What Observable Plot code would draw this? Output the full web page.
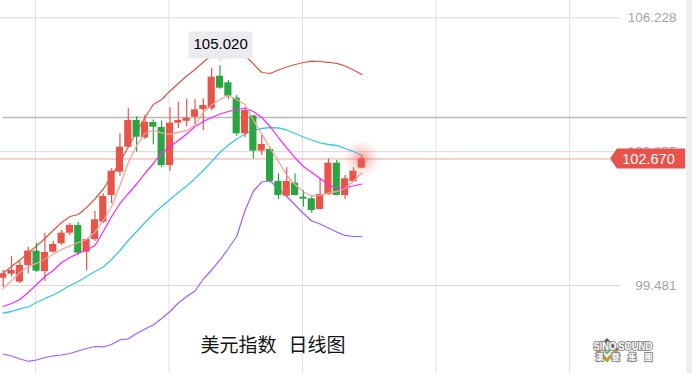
<!DOCTYPE html>
<html><head><meta charset="utf-8">
<script src="https://cdn.jsdelivr.net/npm/d3@7"></script>
<script src="https://cdn.jsdelivr.net/npm/@observablehq/plot@0.6"></script>
<style>
html,body{margin:0;padding:0;background:#fff;}
#chart{position:relative;width:692px;height:373px;overflow:hidden;background:#fff;}
#scroll{position:absolute;top:0;right:0;width:6px;height:373px;background:#efefef;}
</style></head><body><div id="chart"><div id="scroll"></div></div>
<script>
// ---- data ----
const opens  = [99.665,99.766,99.565,99.986,100.346,99.834,100.321,100.532,100.800,100.994,100.321,100.641,101.077,101.750,102.337,102.967,103.640,103.199,103.589,103.463,102.506,103.572,103.620,103.723,103.917,103.935,104.756,104.590,104.202,103.305,103.753,102.866,102.909,102.102,101.732,102.060,101.707,101.666,101.397,101.767,102.564,101.750,102.102,102.438];
const highs  = [99.859,100.212,100.086,100.447,100.548,100.800,100.590,100.868,101.052,101.069,100.641,101.346,101.792,102.423,103.305,103.935,103.733,103.766,103.652,103.627,103.960,104.101,104.182,104.161,104.187,104.958,105.020,104.648,104.270,103.960,103.766,103.262,102.967,102.297,102.448,102.297,101.876,101.724,102.171,102.675,102.632,102.254,102.448,102.733];
const lows   = [99.439,99.691,99.532,99.776,99.810,99.590,100.300,100.490,100.742,100.238,99.859,100.590,101.044,101.540,102.236,102.950,102.841,103.160,103.030,102.455,102.362,103.438,103.489,103.539,103.388,103.892,104.430,104.161,103.244,103.204,102.675,102.758,102.090,101.649,101.700,101.740,101.455,101.304,101.385,101.762,101.740,101.649,102.090,102.430];
const closes = [99.776,99.859,99.986,100.346,99.842,100.313,100.515,100.800,100.994,100.296,100.641,101.137,101.724,102.362,102.967,103.640,103.219,103.597,103.471,102.506,103.572,103.640,103.698,103.909,104.018,104.731,104.454,104.252,103.305,103.892,102.866,103.035,102.102,101.750,102.102,101.750,101.656,101.372,101.775,102.564,101.750,102.171,102.362,102.670];
const upperBand = [99.797,99.960,100.124,100.301,100.477,100.666,100.868,101.069,101.220,101.271,101.447,101.661,101.913,102.241,102.594,102.972,103.350,103.715,104.043,104.169,104.383,104.572,104.761,104.925,105.114,105.278,105.404,105.454,105.447,105.278,105.064,104.850,104.824,104.913,104.988,105.051,105.102,105.134,105.127,105.107,105.081,105.013,104.913,104.799];
const ma5  = [99.406,99.607,99.809,99.960,100.036,100.149,100.263,100.389,100.477,100.565,100.646,100.817,101.120,101.472,102.002,102.581,103.010,103.312,103.388,103.325,103.287,103.337,103.388,103.526,103.841,104.030,104.169,104.270,104.169,104.043,103.640,103.312,102.934,102.619,102.254,102.027,101.838,101.737,101.750,101.813,101.850,101.926,102.115,102.317];
const ma10 = [98.952,99.028,99.129,99.305,99.507,99.708,99.860,100.061,100.187,100.288,100.376,100.490,100.842,101.220,101.548,101.800,102.039,102.304,102.556,102.821,102.985,103.136,103.300,103.489,103.615,103.715,103.804,103.867,103.917,103.955,103.867,103.715,103.489,103.211,102.947,102.695,102.481,102.329,102.178,102.027,101.926,101.951,101.989,102.039];
const midBand = [98.788,98.826,98.889,98.940,99.053,99.154,99.242,99.355,99.481,99.582,99.708,99.834,99.948,100.137,100.364,100.616,100.842,101.069,101.283,101.472,101.649,101.825,101.989,102.178,102.380,102.607,102.833,103.022,103.174,103.300,103.388,103.438,103.463,103.451,103.400,103.312,103.224,103.148,103.073,103.035,103.010,102.934,102.859,102.758];
const lowerBand = [97.755,97.705,97.629,97.571,97.604,97.667,97.705,97.730,97.768,97.831,97.894,97.944,97.932,97.995,98.113,98.138,98.272,98.385,98.486,98.650,98.826,99.040,99.204,99.343,99.645,99.872,100.124,100.414,100.716,101.372,101.863,102.090,102.115,101.926,101.724,101.510,101.296,101.107,101.031,100.931,100.830,100.742,100.716,100.716];
const yTicks = [106.228, 102.855, 99.481];
const timeGrid = [3.87, 19.88, 35.89, 51.90, 67.91];   // vertical grid positions (candle index units)
const crosshairPrice = 103.715;
const lastPrice = 102.670;
const titleParts = ["美元指数", "日线图"];
const logoText = ["SINO SOUND", "漢 聲 集 團"];

// ---- styles ----
const RED = "#ea5347", GREEN = "#29a642";
const NUM_FONT = "'Liberation Sans', Arial, Helvetica, sans-serif";

const candles = opens.map((o, i) => ({i, open: o, high: highs[i], low: lows[i], close: closes[i], col: closes[i] >= o ? RED : GREEN}));
const mk = arr => arr.map((v, i) => ({i, v}));
const peak = candles.reduce((a, b) => (b.high > a.high ? b : a));
const last = candles[candles.length - 1];

const chart = Plot.plot({
  width: 692, height: 373,
  marginLeft: 0, marginTop: 0, marginBottom: 0, marginRight: 72,
  style: {fontFamily: NUM_FONT, background: "transparent"},
  x: {type: "linear", domain: [0, 43], range: [2.7, 361.3], axis: null},
  y: {type: "linear", domain: [99.481, 106.228], range: [285, 17.3], axis: null},
  marks: [
    Plot.ruleX(timeGrid, {x: d => d, stroke: "#e2e2e8", strokeWidth: 1}),
    Plot.gridY(yTicks, {stroke: "#d8d8de", strokeOpacity: 1, strokeWidth: 1}),
    Plot.ruleY([crosshairPrice], {x1: 0, x2: 82, stroke: "#b9b9bd", strokeWidth: 1.6}),
    Plot.ruleY([lastPrice], {x1: -1, x2: 72.8, stroke: "#f0a29c", strokeWidth: 1}),
    Plot.line(mk(lowerBand), {x: "i", y: "v", stroke: "#a35cff", strokeWidth: 1.2}),
    Plot.line(mk(midBand), {x: "i", y: "v", stroke: "#3cc6ea", strokeWidth: 1.3}),
    Plot.line(mk(upperBand), {x: "i", y: "v", stroke: "#d9573f", strokeWidth: 1.2}),
    Plot.ruleX(candles, {x: "i", y1: "low", y2: "high", stroke: "col", strokeWidth: 1.2}),
    Plot.rect(candles, {x1: d => d.i - 0.43, x2: d => d.i + 0.43, y1: "open", y2: "close", fill: "col"}),
    Plot.line(mk(ma10), {x: "i", y: "v", stroke: "#ff22ff", strokeWidth: 1.2}),
    Plot.line(mk(ma5), {x: "i", y: "v", stroke: "#f6a39d", strokeWidth: 1.3}),
    Plot.dot([last], {x: "i", y: "close", r: 20, fill: "url(#lastGlow)", stroke: "none"}),
    Plot.tip([peak], {x: "i", y: "high", title: d => d.high.toFixed(3), anchor: "bottom",
      fill: "#e9ebee", stroke: "none", pathFilter: "none", fontSize: 15, fontFamily: NUM_FONT,
      textPadding: 5, pointerSize: 8, dy: -3}),
    Plot.text(yTicks, {y: d => d, frameAnchor: "right", dx: 56, textAnchor: "end",
      text: d => d.toFixed(3), fill: "#a3a3b1", fontSize: 13.5, fontFamily: NUM_FONT}),
    Plot.text([titleParts[0]], {frameAnchor: "bottom-left", dx: 200, dy: -28, lineAnchor: "middle", textAnchor: "start",
      fontSize: 19, fill: "#151515", fontFamily: "'Noto Sans CJK SC', sans-serif"}),
    Plot.text([titleParts[1]], {frameAnchor: "bottom-left", dx: 288, dy: -28, lineAnchor: "middle", textAnchor: "start",
      fontSize: 19, fill: "#151515", fontFamily: "'Noto Sans CJK SC', sans-serif"})
  ]
});

const svg = d3.select(chart);
svg.style("position", "absolute").style("left", 0).style("top", 0);
const defs = svg.insert("defs", ":first-child");
const g = defs.append("radialGradient").attr("id", "lastGlow");
g.append("stop").attr("offset", "0%").attr("stop-color", "#f04a3e").attr("stop-opacity", 0.55);
g.append("stop").attr("offset", "45%").attr("stop-color", "#f26a60").attr("stop-opacity", 0.25);
g.append("stop").attr("offset", "100%").attr("stop-color", "#f7a7a0").attr("stop-opacity", 0);

// price tag at the last close, placed through the y scale
const yLast = chart.scale("y").apply(lastPrice);
const tag = svg.append("g");
tag.append("path")
  .attr("d", `M610,${yLast} L617,${yLast - 10} L685,${yLast - 10} L685,${yLast + 10} L617,${yLast + 10} Z`)
  .attr("fill", "#e8524a");
tag.append("text").attr("x", 648.5).attr("y", yLast).attr("dy", "0.36em")
  .attr("text-anchor", "middle").attr("fill", "#fff")
  .attr("font-family", NUM_FONT).attr("font-size", 14.5).text(lastPrice.toFixed(3));

// logo
const logo = svg.append("g").attr("transform", "translate(607,350)");
logo.append("path").attr("d", "M0,-12 L12,0 L0,12 L-12,0 Z").attr("fill", "#5a5a5a");
logo.append("path").attr("d", "M-12,0 L0,12 L12,0 L8,0 L0,8 L-8,0 Z").attr("fill", "#c9a21c");
logo.append("path").attr("d", "M0,-8 L8,0 L0,8 L-8,0 Z").attr("fill", "#f4f4f4");
logo.append("path").attr("d", "M0,-4.5 L4.5,0 L0,4.5 L-4.5,0 Z").attr("fill", "#6fb43f");
logo.append("path").attr("d", "M0,-2 L2,0 L0,2 L-2,0 Z").attr("fill", "#fff");
svg.append("text").attr("x", 623).attr("y", 349.5).attr("font-family", NUM_FONT).attr("font-weight", "bold")
  .attr("font-size", 10).attr("fill", "#fff").attr("stroke", "#8a8a8a").attr("stroke-width", 2)
  .attr("paint-order", "stroke").attr("textLength", 59).text(logoText[0]);
svg.append("text").attr("x", 624).attr("y", 360).attr("font-family", "'Noto Sans CJK TC', sans-serif").attr("font-weight", "bold")
  .attr("font-size", 8).attr("fill", "#fff").attr("stroke", "#8a8a8a").attr("stroke-width", 2)
  .attr("paint-order", "stroke").attr("textLength", 57).text(logoText[1]);

document.getElementById("chart").appendChild(chart);
</script>
</body></html>
